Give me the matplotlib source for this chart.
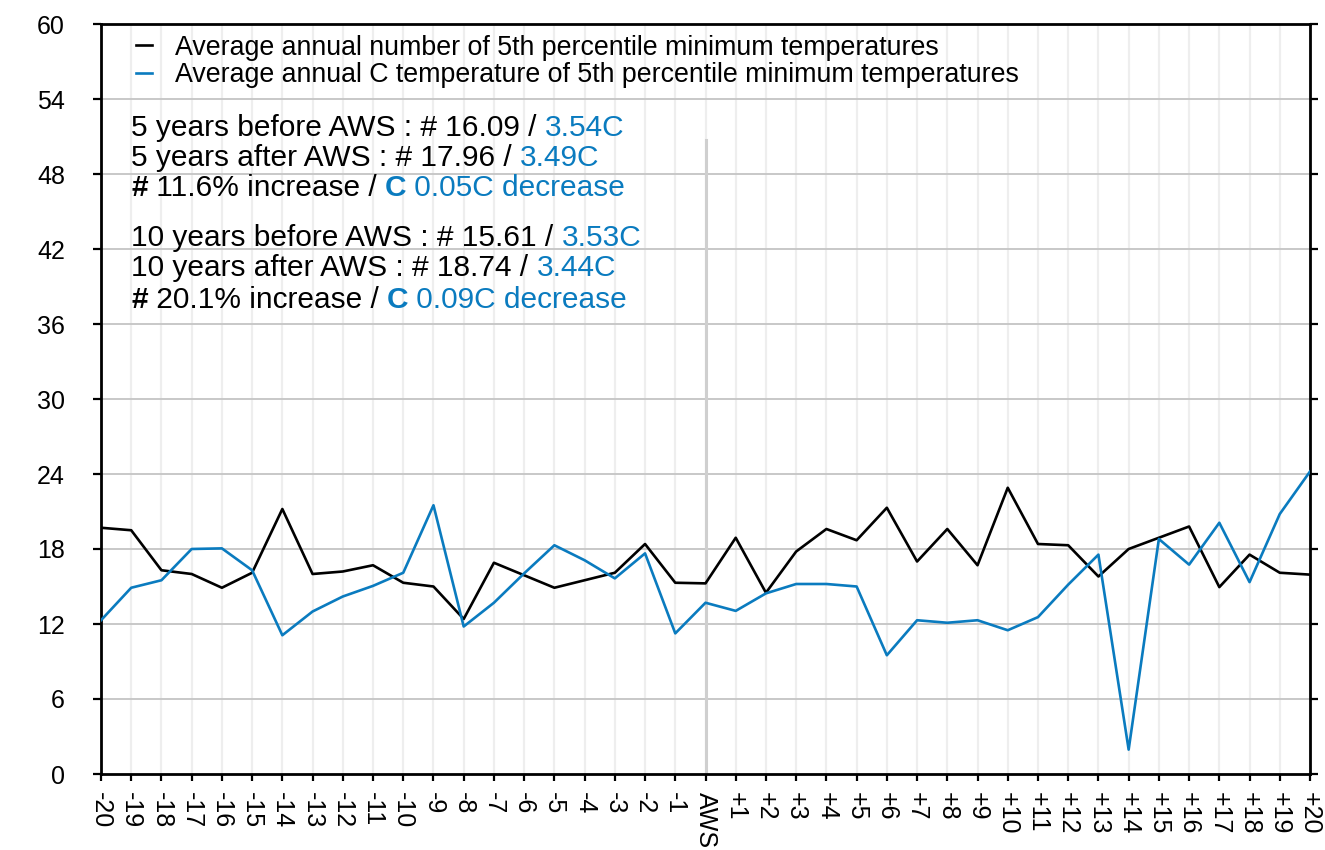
import matplotlib
matplotlib.use("Agg")
import matplotlib.pyplot as plt
from matplotlib.lines import Line2D

plt.rcParams['font.family'] = ['Liberation Sans', 'DejaVu Sans']

# years relative to AWS installation
labels = ["-20", "-19", "-18", "-17", "-16", "-15", "-14", "-13", "-12", "-11",
          "-10", "-9", "-8", "-7", "-6", "-5", "-4", "-3", "-2", "-1", "AWS",
          "+1", "+2", "+3", "+4", "+5", "+6", "+7", "+8", "+9", "+10",
          "+11", "+12", "+13", "+14", "+15", "+16", "+17", "+18", "+19", "+20"]

count_vals = [19.7, 19.5, 16.3, 16.0, 14.9, 16.1, 21.2, 16.0, 16.2, 16.7,
              15.3, 15.0, 12.4, 16.9, 15.9, 14.9, 15.5, 16.1, 18.4, 15.3, 15.25,
              18.9, 14.5, 17.8, 19.6, 18.7, 21.3, 17.0, 19.6, 16.7, 22.9,
              18.4, 18.3, 15.8, 18.0, 18.9, 19.8, 14.95, 17.55, 16.1, 15.95]

temp_vals = [12.3, 14.9, 15.5, 18.0, 18.05, 16.3, 11.1, 13.0, 14.2, 15.05,
             16.1, 21.5, 11.8, 13.7, 16.05, 18.3, 17.1, 15.65, 17.65, 11.25, 13.7,
             13.05, 14.45, 15.2, 15.2, 15.0, 9.5, 12.3, 12.1, 12.3, 11.5,
             12.55, 15.15, 17.55, 1.95, 18.8, 16.75, 20.1, 15.35, 20.8, 24.2]

blue = "#0a7bbf"
x = list(range(len(labels)))

fig = plt.figure(figsize=(13.25, 8.5), dpi=100)
ax = fig.add_axes([101/1325, 1 - 774/850, 1209/1325, 750/850])

# grid
for xi in x:
    ax.axvline(xi, color="#eeeeee", lw=1.6, zorder=0)
for yv in range(6, 60, 6):
    ax.axhline(yv, color="#c4c4c4", lw=1.3, zorder=0)
aws = labels.index("AWS")
ax.axvline(aws, ymin=0, ymax=(774 - 140) / 750, color="#cfcfcf", lw=2.2, zorder=1)

ax.plot(x, count_vals, color="black", lw=1.9, zorder=3)
ax.plot(x, temp_vals, color=blue, lw=1.9, zorder=3)

ax.set_xlim(0, len(labels) - 1)
ax.set_ylim(0, 60)
ax.set_yticks(range(0, 61, 6))
ax.set_xticks(x)
ax.set_xticklabels(labels, rotation=-90, fontsize=18)
ax.tick_params(axis="y", labelsize=18, direction="out", length=6, width=1.6,
               right=True, pad=20)
ax.tick_params(axis="x", direction="out", length=5, width=1.6, pad=8)
for s in ax.spines.values():
    s.set_linewidth(2.0)

handles = [Line2D([], [], color="black", lw=1.9),
           Line2D([], [], color=blue, lw=1.9)]
ax.legend(handles, ["Average annual number of 5th percentile minimum temperatures",
                    "Average annual C temperature of 5th percentile minimum temperatures"],
          loc="upper left", frameon=False, fontsize=19.3, handlelength=0.6,
          handletextpad=0.85, labelspacing=0.05, borderaxespad=0.0,
          bbox_to_anchor=(0.02, 1.0))


def line(y, parts):
    prev = None
    for txt, col, bold in parts:
        w = "bold" if bold else "normal"
        if prev is None:
            prev = ax.text(1.0, y, txt, color=col, fontsize=21.5, fontweight=w,
                           va="center", ha="left", zorder=5)
        else:
            prev = ax.annotate(txt, xy=(1, 0), xycoords=prev, color=col, fontsize=21.5,
                               fontweight=w, va="bottom", ha="left", zorder=5)


line(51.7, [("5 years before AWS : # 16.09 / ", "black", False), ("3.54C", blue, False)])
line(49.3, [("5 years after AWS : # 17.96 / ", "black", False), ("3.49C", blue, False)])
line(46.85, [("#", "black", True), (" 11.6% increase / ", "black", False),
             ("C", blue, True), (" 0.05C decrease", blue, False)])
line(42.85, [("10 years before AWS : # 15.61 / ", "black", False), ("3.53C", blue, False)])
line(40.45, [("10 years after AWS : # 18.74 / ", "black", False), ("3.44C", blue, False)])
line(37.9, [("#", "black", True), (" 20.1% increase / ", "black", False),
            ("C", blue, True), (" 0.09C decrease", blue, False)])

fig.savefig("out.png", dpi=100)
